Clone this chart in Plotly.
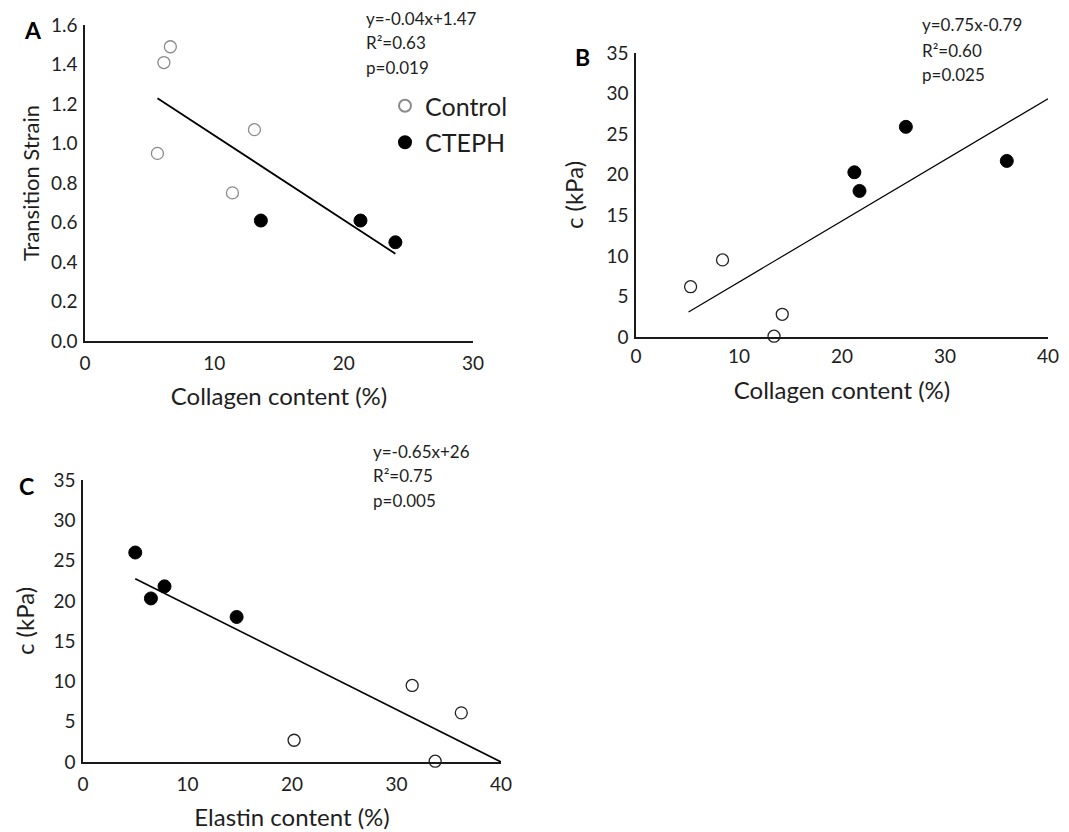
import plotly.graph_objects as go

W, H = 1069, 832

# ---------------- data ----------------
# Panel A: Transition strain vs collagen content
a_ctrl_x = [6.6, 6.1, 5.6, 11.4, 13.1]
a_ctrl_y = [1.49, 1.41, 0.95, 0.75, 1.07]
a_cteph_x = [13.6, 21.3, 24.0]
a_cteph_y = [0.61, 0.61, 0.50]
a_fit_x = [5.6, 24.0]
a_slope, a_icpt = -0.0428, 1.469
a_text = ["y=-0.04x+1.47", "R²=0.63", "p=0.019"]

# Panel B: c (kPa) vs collagen content
b_ctrl_x = [5.3, 8.4, 13.4, 14.2]
b_ctrl_y = [6.2, 9.5, 0.1, 2.8]
b_cteph_x = [21.2, 21.7, 26.2, 36.0]
b_cteph_y = [20.3, 18.0, 25.9, 21.7]
b_fit_x = [5.1, 40.0]
b_slope, b_icpt = 0.753, -0.76
b_text = ["y=0.75x-0.79", "R²=0.60", "p=0.025"]

# Panel C: c (kPa) vs elastin content
c_ctrl_x = [20.2, 31.5, 33.7, 36.2]
c_ctrl_y = [2.7, 9.5, 0.1, 6.1]
c_cteph_x = [5.0, 6.5, 7.8, 14.7]
c_cteph_y = [26.0, 20.3, 21.8, 18.0]
c_fit_x = [5.0, 40.0]
c_slope, c_icpt = -0.65, 26.0
c_text = ["y=-0.65x+26", "R²=0.75", "p=0.005"]

FONT = "Lato"
TXT = "#1e1e1e"

def px_x(p):
    return p / W

def px_y(p):
    return 1 - p / H

fig = go.Figure()

def add_panel(n, cx, cy, tx, ty, fx, slope, icpt, ctrl_edge, line_w, legend):
    xa = "x" if n == 1 else f"x{n}"
    ya = "y" if n == 1 else f"y{n}"
    fy = [slope * v + icpt for v in fx]
    fig.add_trace(go.Scatter(x=fx, y=fy, mode="lines", xaxis=xa, yaxis=ya,
                             line=dict(color="black", width=line_w),
                             showlegend=False, hoverinfo="skip"))
    fig.add_trace(go.Scatter(x=cx, y=cy, mode="markers", xaxis=xa, yaxis=ya,
                             name="Control", showlegend=legend, legendgroup="ctrl",
                             cliponaxis=False,
                             marker=dict(symbol="circle", size=12, color="white",
                                         line=dict(color=ctrl_edge, width=1.3))))
    fig.add_trace(go.Scatter(x=tx, y=ty, mode="markers", xaxis=xa, yaxis=ya,
                             name="CTEPH", showlegend=legend, legendgroup="cteph",
                             cliponaxis=False,
                             marker=dict(symbol="circle", size=13, color="black",
                                         line=dict(color="black", width=1))))

add_panel(1, a_ctrl_x, a_ctrl_y, a_cteph_x, a_cteph_y, a_fit_x, a_slope, a_icpt, "#8a8a8a", 1.8, True)
add_panel(2, b_ctrl_x, b_ctrl_y, b_cteph_x, b_cteph_y, b_fit_x, b_slope, b_icpt, "#222222", 1.2, False)
add_panel(3, c_ctrl_x, c_ctrl_y, c_cteph_x, c_cteph_y, c_fit_x, c_slope, c_icpt, "#222222", 1.6, False)

def axis(domain, rng, dtick, title, anchor, fmt=None, standoff=10, labgap=4, tsize=24):
    d = dict(domain=domain, range=rng, dtick=dtick, tick0=0, showgrid=False,
             zeroline=False, showline=True, linecolor="#1a1a1a", linewidth=1.5,
             ticks="", ticklabelstandoff=labgap, automargin=False, anchor=anchor,
             tickfont=dict(family=FONT, size=19, color=TXT),
             title=dict(text=title, font=dict(family=FONT, size=tsize, color=TXT),
                        standoff=standoff),
             fixedrange=True)
    if fmt:
        d["tickformat"] = fmt
    return d

fig.update_layout(
    width=W, height=H, margin=dict(l=0, r=0, t=0, b=0),
    paper_bgcolor="white", plot_bgcolor="white",
    xaxis=axis([px_x(85), px_x(473)], [0, 30], 10, "Collagen content (%)", "y", standoff=16, labgap=4),
    yaxis=axis([px_y(341), px_y(25)], [0, 1.6], 0.2, "Transition Strain", "x", ".1f",
               standoff=5, labgap=2, tsize=22),
    xaxis2=axis([px_x(636), px_x(1048)], [0, 40], 10, "Collagen content (%)", "y2", standoff=17, labgap=1),
    yaxis2=axis([px_y(337), px_y(53)], [0, 35], 5, "c (kPa)", "x2", standoff=16, labgap=2),
    xaxis3=axis([px_x(83), px_x(501)], [0, 40], 10, "Elastin content (%)", "y3", standoff=16, labgap=4),
    yaxis3=axis([px_y(762), px_y(480)], [0, 35], 5, "c (kPa)", "x3", standoff=12, labgap=2),
    legend=dict(x=px_x(385), y=px_y(83), xanchor="left", yanchor="top",
                font=dict(family=FONT, size=25, color=TXT), bgcolor="rgba(0,0,0,0)",
                traceorder="grouped", tracegroupgap=1, itemsizing="constant"),
    font=dict(family=FONT, color=TXT),
)

annotations = []
def stats(lines, x_left, ys):
    for t, yy in zip(lines, ys):
        annotations.append(dict(text=t, x=px_x(x_left), y=px_y(yy), xref="paper", yref="paper",
                                xanchor="left", yanchor="middle", showarrow=False,
                                font=dict(family=FONT, size=17, color=TXT)))

stats(a_text, 364, [18, 43, 67])
stats(b_text, 920, [25, 50, 75])
stats(c_text, 371, [451, 475, 500])

for lab, xx, yy in [("A", 33, 30), ("B", 582, 57), ("C", 26, 486)]:
    annotations.append(dict(text=f"<b>{lab}</b>", x=px_x(xx), y=px_y(yy), xref="paper", yref="paper",
                            xanchor="center", yanchor="middle", showarrow=False,
                            font=dict(family=FONT, size=23, color="black")))

fig.update_layout(annotations=annotations)
fig.write_html("out.html", config={"displayModeBar": False},
               post_script="document.body.style.margin='0';document.body.style.overflow='hidden';")
